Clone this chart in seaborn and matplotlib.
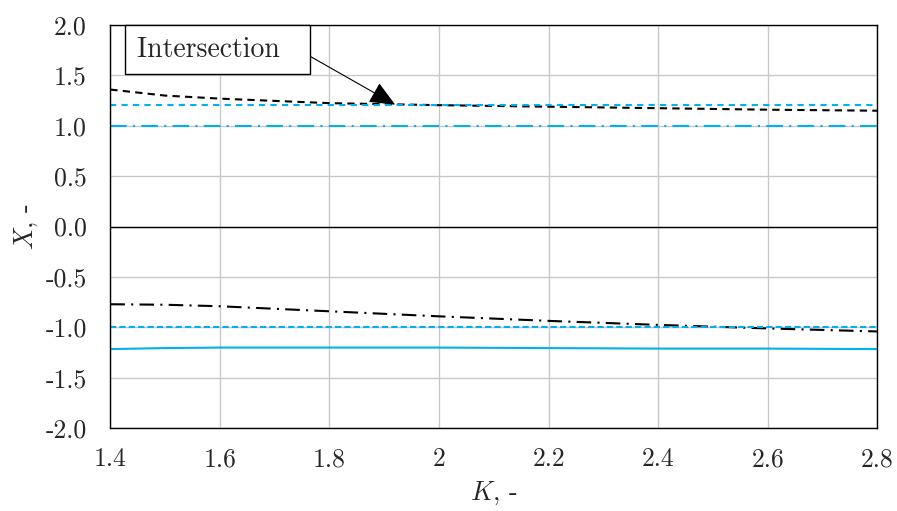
import matplotlib
matplotlib.use("Agg")
import matplotlib.pyplot as plt
import seaborn as sns
import pandas as pd

# wartości K (oś X)
k_vals = [1.4, 1.5, 1.6, 1.8, 2.0, 2.2, 2.4, 2.6, 2.8]

# serie
upper_black_dash = [1.36, 1.30, 1.27, 1.225, 1.205, 1.19, 1.175, 1.16, 1.15]
upper_cyan_dash = [1.21, 1.21, 1.21, 1.21, 1.21, 1.21, 1.21, 1.21, 1.21]
upper_cyan_dashdot = [1.0, 1.0, 1.0, 1.0, 1.0, 1.0, 1.0, 1.0, 1.0]
lower_black_dashdot = [-0.77, -0.775, -0.79, -0.84, -0.89, -0.935, -0.975, -1.01, -1.04]
lower_cyan_dash = [-1.0, -1.0, -1.0, -1.0, -1.0, -1.0, -1.0, -1.0, -1.0]
lower_cyan_solid = [-1.215, -1.205, -1.2, -1.2, -1.2, -1.205, -1.21, -1.21, -1.215]

y_ticks = [-2.0, -1.5, -1.0, -0.5, 0.0, 0.5, 1.0, 1.5, 2.0]
y_tick_labels = ["-2.0", "-1.5", "-1.0", "-0.5", "0.0", "0.5", "1.0", "1.5", "2.0"]
x_ticks = [1.4, 1.6, 1.8, 2.0, 2.2, 2.4, 2.6, 2.8]
x_tick_labels = ["1.4", "1.6", "1.8", "2", "2.2", "2.4", "2.6", "2.8"]

CYAN = "#00B0F0"

sns.set_style("whitegrid")
plt.rcParams["font.family"] = ["cmr10", "DejaVu Serif"]
plt.rcParams["mathtext.fontset"] = "cm"
plt.rcParams["axes.unicode_minus"] = False

df = pd.DataFrame({"K": k_vals})

fig, ax = plt.subplots(figsize=(8.97, 5.11), dpi=100)

series = [
    (upper_black_dash, "black", (0, (3.5, 2.5))),
    (upper_cyan_dash, CYAN, (0, (3, 2.5))),
    (upper_cyan_dashdot, CYAN, (0, (8, 3, 1, 3))),
    (lower_black_dashdot, "black", (0, (7, 3, 1, 3))),
    (lower_cyan_dash, CYAN, (0, (3, 1.5))),
    (lower_cyan_solid, CYAN, "-"),
]
for vals, col, ls in series:
    sns.lineplot(x=df["K"], y=vals, color=col, linestyle=ls, linewidth=1.5, ax=ax)

ax.axhline(0, color="black", linewidth=1.0, zorder=1)

ax.set_xlim(1.4, 2.8)
ax.set_ylim(-2.0, 2.0)
ax.set_xticks(x_ticks)
ax.set_xticklabels(x_tick_labels, fontsize=18.5)
ax.set_yticks(y_ticks)
ax.set_yticklabels(y_tick_labels, fontsize=18.5)
ax.tick_params(axis="y", direction="in", length=5, color="black", pad=17)
ax.tick_params(axis="x", length=0, pad=14)
ax.grid(True, color="#c8c8c8", linewidth=1.0)
for sp in ax.spines.values():
    sp.set_color("black")
    sp.set_linewidth(1.0)

ax.set_xlabel(r"$K$, -", fontsize=19, labelpad=6)
ax.set_ylabel(r"$X$, -", fontsize=19, labelpad=4)

ax.annotate("Intersection  ", xy=(1.92, 1.21), xytext=(1.596, 1.756),
            fontsize=20, ha="center", va="center",
            bbox=dict(boxstyle="square,pad=0.42", fc="white", ec="black", lw=1.0),
            arrowprops=dict(arrowstyle="-|>,head_length=0.8,head_width=0.35", color="black",
                            lw=0.8, relpos=(1.0, 0.5), shrinkA=0, shrinkB=0))

fig.subplots_adjust(left=0.123, right=0.978, top=0.951, bottom=0.162)
fig.savefig("out.png", dpi=100)
